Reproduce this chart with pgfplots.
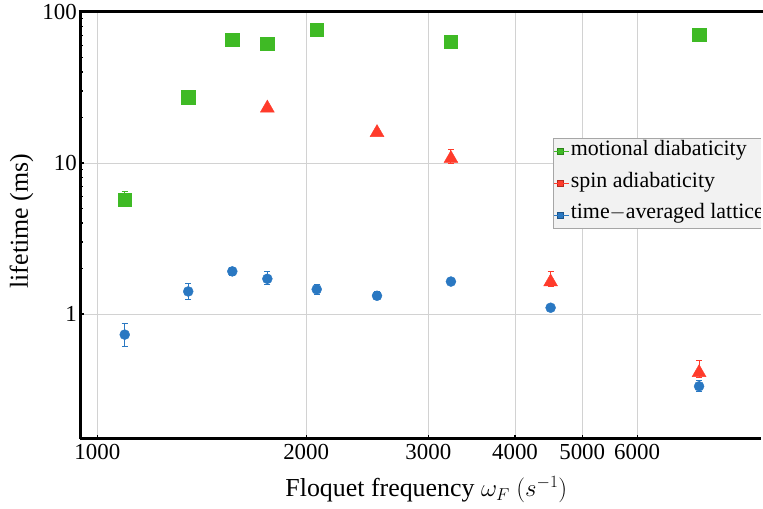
\documentclass[border=0pt]{standalone}
\usepackage{pgfplots}
\pgfplotsset{compat=1.18}
\usepackage{fontspec}
\setmainfont{Liberation Serif}
\definecolor{mgreen}{RGB}{63,186,37}
\definecolor{mred}{RGB}{255,59,43}
\definecolor{mblue}{RGB}{42,120,194}
\definecolor{gridc}{RGB}{210,210,210}
\pgfplotstableread{
x y ep em
1095 5.71 0.8 0.3
1352 27.2 0 0
1565 65.5 0 0
1758 61.9 0 0
2071 76.3 0 0
3234 63.5 0 0
7370 70.8 0 0
}\greendata
\pgfplotstableread{
x y ep em
1758 23.1 0 0
2530 15.9 0 0
3234 10.7 1.6 0.8
4502 1.63 0.27 0.12
7370 0.409 0.08 0.03
}\reddata
\pgfplotstableread{
x y ep em
1095 0.73 0.14 0.12
1352 1.41 0.19 0.17
1565 1.915 0.13 0.11
1758 1.71 0.19 0.15
2071 1.456 0.12 0.1
2530 1.32 0.08 0.07
3234 1.64 0.08 0.07
4502 1.10 0.04 0.04
7370 0.332 0.028 0.026
}\bluedata
\begin{document}
\fontsize{22}{26}\selectfont
\begin{tikzpicture}[x=1bp,y=1bp]
\path[use as bounding box] (0,0) rectangle (763,509);
\clip (0,0) rectangle (763,509);
\begin{axis}[
  at={(80bp,70bp)}, anchor=south west, scale only axis,
  width=711bp, height=427bp,
  xmode=log, ymode=log,
  xmin=944, xmax=10000, ymin=0.1486, ymax=100,
  axis x line*=bottom, axis y line*=left,
  xtick={1000,2000,3000,4000,5000,6000},
  xticklabels={1000,2000,3000,4000,5000,6000},
  ytick={1,10,100}, yticklabels={1,10,100},
  minor xtick={}, minor ytick={},
  grid=major,
  major grid style={gridc, line width=0.8bp},
  axis line style={black, line width=3bp, -},
  tick style={black, line width=1.2bp},
  major tick length=4bp,
  tick align=inside,
  ticklabel style={font=\fontsize{23}{27}\selectfont},
  xticklabel style={inner sep=0pt, anchor=base, yshift=-21bp},
  yticklabel style={inner sep=0pt, xshift=-3bp, anchor=east},
  /pgf/number format/assume math mode=true,
  xlabel={Floquet frequency $\omega_F$ $(s^{-1})$},
  ylabel={lifetime (ms)},
  label style={font=\fontsize{26}{30}\selectfont},
  xlabel style={at={(axis description cs:0.487,-0.1194)}, anchor=center, inner sep=0pt},
  ylabel style={at={(axis description cs:-0.0823,0.51)}, anchor=center, rotate=0, inner sep=0pt},
  legend style={at={(axis description cs:0.6646,0.7058)}, anchor=north west,
    fill=black!5, draw=black!35, line width=0.8bp,
    font=\fontsize{22}{26}\selectfont, inner sep=1bp, row sep=6.4bp,
    nodes={inner xsep=1bp, inner ysep=2bp, text height=14.3bp, text depth=7bp}},
  legend cell align=left,
  clip=false,
]
% error bars (drawn first, markers on top)
\addplot[only marks, mark=none, color=mgreen, forget plot,
  error bars/.cd, y dir=both, y explicit,
  error bar style={line width=1bp, mgreen},
  error mark options={rotate=90, mark size=3bp, line width=1bp, mgreen}]
  table[x=x, y=y, y error plus=ep, y error minus=em] {\greendata};
\addplot[only marks, mark=none, color=mred, forget plot,
  error bars/.cd, y dir=both, y explicit,
  error bar style={line width=1bp, mred},
  error mark options={rotate=90, mark size=3bp, line width=1bp, mred}]
  table[x=x, y=y, y error plus=ep, y error minus=em] {\reddata};
\addplot[only marks, mark=none, color=mblue, forget plot,
  error bars/.cd, y dir=both, y explicit,
  error bar style={line width=1bp, mblue},
  error mark options={rotate=90, mark size=3bp, line width=1bp, mblue}]
  table[x=x, y=y, y error plus=ep, y error minus=em] {\bluedata};
% markers
\addplot[only marks, color=mgreen, mark=square*, mark size=6.7bp,
  mark options={solid, fill=mgreen, draw=none},
  legend image code/.code={\fill[mgreen, draw=mgreen!70!black, line width=0.4bp] (3bp,-3bp) rectangle (9bp,3bp); \path (0bp,0bp) -- (15bp,0bp);}]
  table[x=x, y=y] {\greendata};
\addlegendentry{motional diabaticity}
\addplot[only marks, color=mred, mark=triangle*, mark size=8bp,
  mark options={solid, fill=mred, draw=none},
  legend image code/.code={\fill[mred, draw=mred!70!black, line width=0.4bp] (3bp,-3bp) rectangle (9bp,3bp); \path (0bp,0bp) -- (15bp,0bp);}]
  table[x=x, y=y] {\reddata};
\addlegendentry{spin adiabaticity}
\addplot[only marks, color=mblue, mark=*, mark size=5bp,
  mark options={solid, fill=mblue, draw=none},
  legend image code/.code={\fill[mblue, draw=mblue!70!black, line width=0.4bp] (3bp,-3bp) rectangle (9bp,3bp); \path (0bp,0bp) -- (15bp,0bp);}]
  table[x=x, y=y] {\bluedata};
\addlegendentry{time$-$averaged lattice}
\end{axis}
\fill[white] (760.5,66) rectangle (764,495.4);
\draw[black, line width=3bp] (78.5,497) -- (764,497);
\end{tikzpicture}
\end{document}
